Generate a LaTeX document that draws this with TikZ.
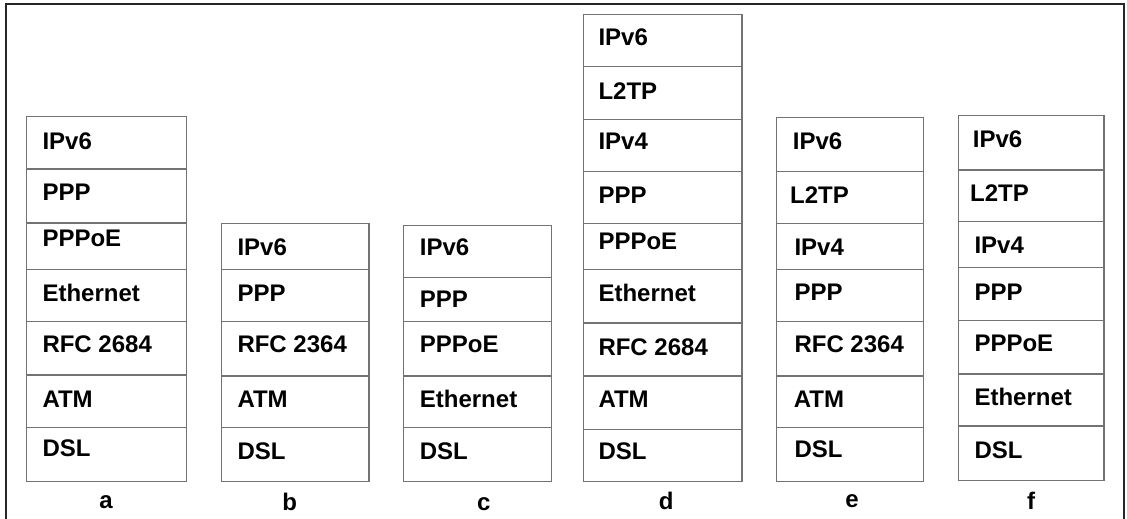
\documentclass[tikz,border=0pt]{standalone}
\usepackage{fontspec}
\setmainfont{Liberation Sans}
\begin{document}
\begin{tikzpicture}[x=1pt,y=-1pt,
  layerbox/.style={draw=black!55,line width=1.2pt},
  layertext/.style={font=\bfseries\fontsize{24}{28}\selectfont,anchor=base west,inner sep=0pt},
  captiontext/.style={font=\bfseries\fontsize{24}{28}\selectfont,anchor=base,inner sep=0pt},
  frameline/.style={draw=black!85,line width=1.3pt}]
\useasboundingbox (0,0) rectangle (1127,519);
\fill[white] (0,0) rectangle (1127,519);
\draw[frameline] (6,519) -- (6,4) -- (1124,4) -- (1124,519);
% stack a
\foreach \tp/\bt/\tx/\bs/\txt [count=\i] in {
  116.7/169/42.3/149/IPv6,
  169/223/42.3/200.7/PPP,
  223/269.3/42.3/246.7/PPPoE,
  269.3/321.3/42.3/301/Ethernet,
  321.3/375/42.3/352.7/RFC 2684,
  375/427.7/42.3/407.3/ATM,
  427.7/481.3/42.3/456.7/DSL}{
  \draw[layerbox] (26.7,\tp) rectangle (186.3,\bt);
  \node[layertext] (a\i) at (\tx,\bs) {\txt};
}
\node[captiontext] (capa) at (106,508) {a};
% stack b
\foreach \tp/\bt/\tx/\bs/\txt [count=\i] in {
  223.7/269.3/237.3/255.7/IPv6,
  269.3/321.3/237.3/301/PPP,
  321.3/376/237.3/352.7/RFC 2364,
  376/427.7/237.3/407.3/ATM,
  427.7/481.3/237.3/459.3/DSL}{
  \draw[layerbox] (221.3,\tp) rectangle (369,\bt);
  \node[layertext] (b\i) at (\tx,\bs) {\txt};
}
\node[captiontext] (capb) at (289.7,510) {b};
% stack c
\foreach \tp/\bt/\tx/\bs/\txt [count=\i] in {
  225.7/277.3/419.7/255.7/IPv6,
  277.3/321.3/419.7/307.3/PPP,
  321.3/376/419.7/352.7/PPPoE,
  376/427.7/419.7/407.3/Ethernet,
  427.7/481.3/419.7/459.3/DSL}{
  \draw[layerbox] (403.7,\tp) rectangle (551.3,\bt);
  \node[layertext] (c\i) at (\tx,\bs) {\txt};
}
\node[captiontext] (capc) at (483.7,510) {c};
% stack d
\foreach \tp/\bt/\tx/\bs/\txt [count=\i] in {
  14.7/66.7/598.3/46/IPv6,
  66.7/119.3/598.3/99.3/L2TP,
  119.3/171.7/598.3/149/IPv4,
  171.7/223.3/598.3/203.3/PPP,
  223.3/269.3/598.3/249.3/PPPoE,
  269.3/323/598.3/301/Ethernet,
  323/376/598.3/355/RFC 2684,
  376/429.3/598.3/407.3/ATM,
  429.3/481.3/598.3/459.3/DSL}{
  \draw[layerbox] (583.7,\tp) rectangle (742,\bt);
  \node[layertext] (d\i) at (\tx,\bs) {\txt};
}
\node[captiontext] (capd) at (666.3,509) {d};
% stack e
\foreach \tp/\bt/\tx/\bs/\txt [count=\i] in {
  117.7/171.7/792.7/149/IPv6,
  171.7/223.3/790/203.3/L2TP,
  223.3/269.3/794.3/255/IPv4,
  269.3/321.3/794.3/300/PPP,
  321.3/376/794.3/352.7/RFC 2364,
  376/427.7/793.7/407.3/ATM,
  427.7/481.3/794.3/457.3/DSL}{
  \draw[layerbox] (776.7,\tp) rectangle (923.3,\bt);
  \node[layertext] (e\i) at (\tx,\bs) {\txt};
}
\node[captiontext] (cape) at (852,507.3) {e};
% stack f
\foreach \tp/\bt/\tx/\bs/\txt [count=\i] in {
  115.7/170/972.7/147.3/IPv6,
  170/221.7/970/201.7/L2TP,
  221.7/267.3/974.3/253.3/IPv4,
  267.3/320.7/974.3/300/PPP,
  320.7/374/974.3/351.7/PPPoE,
  374/426/974.3/405/Ethernet,
  426/480.3/974.3/458.3/DSL}{
  \draw[layerbox] (958.7,\tp) rectangle (1104,\bt);
  \node[layertext] (f\i) at (\tx,\bs) {\txt};
}
\node[captiontext] (capf) at (1031.2,509) {f};
\end{tikzpicture}
\end{document}
